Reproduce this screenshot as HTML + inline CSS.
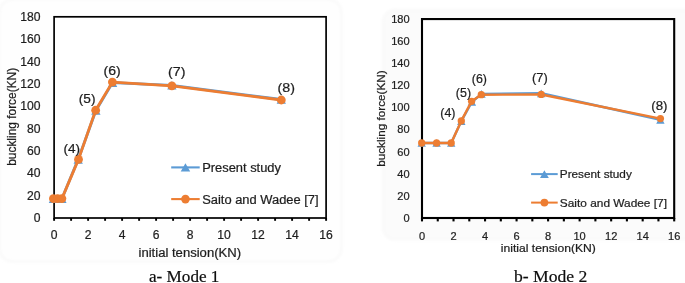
<!DOCTYPE html>
<html><head><meta charset="utf-8"><title>Buckling force vs initial tension</title>
<style>
html,body{margin:0;padding:0;background:#fff;}
body{width:685px;height:283px;overflow:hidden;font-family:"Liberation Sans",sans-serif;}
svg{display:block;}
</style></head><body>
<svg width="685" height="283" viewBox="0 0 685 283">
<defs><filter id="bl" x="-5%" y="-5%" width="110%" height="110%"><feGaussianBlur stdDeviation="1.6"/></filter></defs>
<rect width="685" height="283" fill="#fff"/>
<filter id="soft" x="0" y="0" width="100%" height="100%" filterUnits="userSpaceOnUse"><feGaussianBlur stdDeviation="0.35"/></filter>
<g filter="url(#soft)">
<rect width="685" height="283" fill="#fff"/>
<rect x="-0.5" y="-0.5" width="342" height="262" rx="13" fill="#fefefe" stroke="#f6f6f6" stroke-width="1.5" filter="url(#bl)"/>
<rect x="383" y="10" width="320" height="229.6" rx="12" fill="#fbfbfb" stroke="#f6f6f6" stroke-width="1.5" filter="url(#bl)"/>
<rect x="54.10" y="16.80" width="272.00" height="201.20" fill="#fff" stroke="#000" stroke-width="1.7"/>
<line x1="54.10" y1="218.00" x2="54.10" y2="220.80" stroke="#000" stroke-width="1.9"/>
<line x1="71.10" y1="218.00" x2="71.10" y2="220.80" stroke="#000" stroke-width="1.9"/>
<line x1="88.10" y1="218.00" x2="88.10" y2="220.80" stroke="#000" stroke-width="1.9"/>
<line x1="105.10" y1="218.00" x2="105.10" y2="220.80" stroke="#000" stroke-width="1.9"/>
<line x1="122.10" y1="218.00" x2="122.10" y2="220.80" stroke="#000" stroke-width="1.9"/>
<line x1="139.10" y1="218.00" x2="139.10" y2="220.80" stroke="#000" stroke-width="1.9"/>
<line x1="156.10" y1="218.00" x2="156.10" y2="220.80" stroke="#000" stroke-width="1.9"/>
<line x1="173.10" y1="218.00" x2="173.10" y2="220.80" stroke="#000" stroke-width="1.9"/>
<line x1="190.10" y1="218.00" x2="190.10" y2="220.80" stroke="#000" stroke-width="1.9"/>
<line x1="207.10" y1="218.00" x2="207.10" y2="220.80" stroke="#000" stroke-width="1.9"/>
<line x1="224.10" y1="218.00" x2="224.10" y2="220.80" stroke="#000" stroke-width="1.9"/>
<line x1="241.10" y1="218.00" x2="241.10" y2="220.80" stroke="#000" stroke-width="1.9"/>
<line x1="258.10" y1="218.00" x2="258.10" y2="220.80" stroke="#000" stroke-width="1.9"/>
<line x1="275.10" y1="218.00" x2="275.10" y2="220.80" stroke="#000" stroke-width="1.9"/>
<line x1="292.10" y1="218.00" x2="292.10" y2="220.80" stroke="#000" stroke-width="1.9"/>
<line x1="309.10" y1="218.00" x2="309.10" y2="220.80" stroke="#000" stroke-width="1.9"/>
<line x1="326.10" y1="218.00" x2="326.10" y2="220.80" stroke="#000" stroke-width="1.9"/>
<text x="40.60" y="222.15" font-family="'Liberation Sans', sans-serif" font-size="11.9" text-anchor="end" fill="#1f1f1f" stroke="#1f1f1f" stroke-width="0.22" textLength="6.75" lengthAdjust="spacingAndGlyphs" >0</text>
<text x="40.60" y="199.79" font-family="'Liberation Sans', sans-serif" font-size="11.9" text-anchor="end" fill="#1f1f1f" stroke="#1f1f1f" stroke-width="0.22" textLength="13.50" lengthAdjust="spacingAndGlyphs" >20</text>
<text x="40.60" y="177.44" font-family="'Liberation Sans', sans-serif" font-size="11.9" text-anchor="end" fill="#1f1f1f" stroke="#1f1f1f" stroke-width="0.22" textLength="13.50" lengthAdjust="spacingAndGlyphs" >40</text>
<text x="40.60" y="155.08" font-family="'Liberation Sans', sans-serif" font-size="11.9" text-anchor="end" fill="#1f1f1f" stroke="#1f1f1f" stroke-width="0.22" textLength="13.50" lengthAdjust="spacingAndGlyphs" >60</text>
<text x="40.60" y="132.73" font-family="'Liberation Sans', sans-serif" font-size="11.9" text-anchor="end" fill="#1f1f1f" stroke="#1f1f1f" stroke-width="0.22" textLength="13.50" lengthAdjust="spacingAndGlyphs" >80</text>
<text x="40.60" y="110.37" font-family="'Liberation Sans', sans-serif" font-size="11.9" text-anchor="end" fill="#1f1f1f" stroke="#1f1f1f" stroke-width="0.22" textLength="20.25" lengthAdjust="spacingAndGlyphs" >100</text>
<text x="40.60" y="88.02" font-family="'Liberation Sans', sans-serif" font-size="11.9" text-anchor="end" fill="#1f1f1f" stroke="#1f1f1f" stroke-width="0.22" textLength="20.25" lengthAdjust="spacingAndGlyphs" >120</text>
<text x="40.60" y="65.66" font-family="'Liberation Sans', sans-serif" font-size="11.9" text-anchor="end" fill="#1f1f1f" stroke="#1f1f1f" stroke-width="0.22" textLength="20.25" lengthAdjust="spacingAndGlyphs" >140</text>
<text x="40.60" y="43.31" font-family="'Liberation Sans', sans-serif" font-size="11.9" text-anchor="end" fill="#1f1f1f" stroke="#1f1f1f" stroke-width="0.22" textLength="20.25" lengthAdjust="spacingAndGlyphs" >160</text>
<text x="40.60" y="20.95" font-family="'Liberation Sans', sans-serif" font-size="11.9" text-anchor="end" fill="#1f1f1f" stroke="#1f1f1f" stroke-width="0.22" textLength="20.25" lengthAdjust="spacingAndGlyphs" >180</text>
<text x="54.10" y="239.30" font-family="'Liberation Sans', sans-serif" font-size="11.9" text-anchor="middle" fill="#1f1f1f" stroke="#1f1f1f" stroke-width="0.22" textLength="6.75" lengthAdjust="spacingAndGlyphs" >0</text>
<text x="88.10" y="239.30" font-family="'Liberation Sans', sans-serif" font-size="11.9" text-anchor="middle" fill="#1f1f1f" stroke="#1f1f1f" stroke-width="0.22" textLength="6.75" lengthAdjust="spacingAndGlyphs" >2</text>
<text x="122.10" y="239.30" font-family="'Liberation Sans', sans-serif" font-size="11.9" text-anchor="middle" fill="#1f1f1f" stroke="#1f1f1f" stroke-width="0.22" textLength="6.75" lengthAdjust="spacingAndGlyphs" >4</text>
<text x="156.10" y="239.30" font-family="'Liberation Sans', sans-serif" font-size="11.9" text-anchor="middle" fill="#1f1f1f" stroke="#1f1f1f" stroke-width="0.22" textLength="6.75" lengthAdjust="spacingAndGlyphs" >6</text>
<text x="190.10" y="239.30" font-family="'Liberation Sans', sans-serif" font-size="11.9" text-anchor="middle" fill="#1f1f1f" stroke="#1f1f1f" stroke-width="0.22" textLength="6.75" lengthAdjust="spacingAndGlyphs" >8</text>
<text x="224.10" y="239.30" font-family="'Liberation Sans', sans-serif" font-size="11.9" text-anchor="middle" fill="#1f1f1f" stroke="#1f1f1f" stroke-width="0.22" textLength="13.50" lengthAdjust="spacingAndGlyphs" >10</text>
<text x="258.10" y="239.30" font-family="'Liberation Sans', sans-serif" font-size="11.9" text-anchor="middle" fill="#1f1f1f" stroke="#1f1f1f" stroke-width="0.22" textLength="13.50" lengthAdjust="spacingAndGlyphs" >12</text>
<text x="292.10" y="239.30" font-family="'Liberation Sans', sans-serif" font-size="11.9" text-anchor="middle" fill="#1f1f1f" stroke="#1f1f1f" stroke-width="0.22" textLength="13.50" lengthAdjust="spacingAndGlyphs" >14</text>
<text x="326.10" y="239.30" font-family="'Liberation Sans', sans-serif" font-size="11.9" text-anchor="middle" fill="#1f1f1f" stroke="#1f1f1f" stroke-width="0.22" textLength="13.50" lengthAdjust="spacingAndGlyphs" >16</text>
<polyline points="53.40,198.70 57.60,198.70 61.90,198.70 78.20,159.40 95.90,110.50 112.60,82.60 171.90,85.30 281.30,99.50" fill="none" stroke="#5B9BD5" stroke-width="2.8" stroke-linejoin="round" stroke-linecap="round"/>
<path d="M53.40 194.40 L58.05 203.00 L48.75 203.00 Z" fill="#5B9BD5"/>
<path d="M57.60 194.40 L62.25 203.00 L52.95 203.00 Z" fill="#5B9BD5"/>
<path d="M61.90 194.40 L66.55 203.00 L57.25 203.00 Z" fill="#5B9BD5"/>
<path d="M78.20 155.10 L82.85 163.70 L73.55 163.70 Z" fill="#5B9BD5"/>
<path d="M95.90 106.20 L100.55 114.80 L91.25 114.80 Z" fill="#5B9BD5"/>
<path d="M112.60 78.30 L117.25 86.90 L107.95 86.90 Z" fill="#5B9BD5"/>
<path d="M171.90 81.00 L176.55 89.60 L167.25 89.60 Z" fill="#5B9BD5"/>
<path d="M281.30 95.20 L285.95 103.80 L276.65 103.80 Z" fill="#5B9BD5"/>
<polyline points="53.40,198.60 57.60,198.60 61.90,198.60 78.50,159.40 95.65,110.25 112.40,82.10 171.90,85.90 281.30,100.00" fill="none" stroke="#ED7D31" stroke-width="2.8" stroke-linejoin="round" stroke-linecap="round"/>
<circle cx="53.40" cy="198.60" r="4.4" fill="#ED7D31"/>
<circle cx="57.60" cy="198.60" r="4.4" fill="#ED7D31"/>
<circle cx="61.90" cy="198.60" r="4.4" fill="#ED7D31"/>
<circle cx="78.50" cy="159.40" r="4.4" fill="#ED7D31"/>
<circle cx="95.65" cy="110.25" r="4.4" fill="#ED7D31"/>
<circle cx="112.40" cy="82.10" r="4.4" fill="#ED7D31"/>
<circle cx="171.90" cy="85.90" r="4.4" fill="#ED7D31"/>
<circle cx="281.30" cy="100.00" r="4.4" fill="#ED7D31"/>
<text x="71.83" y="152.60" font-family="'Liberation Sans', sans-serif" font-size="12.3" text-anchor="middle" fill="#1f1f1f" stroke="#1f1f1f" stroke-width="0.22" textLength="16.65" lengthAdjust="spacingAndGlyphs" >(4)</text>
<text x="87.15" y="102.60" font-family="'Liberation Sans', sans-serif" font-size="12.3" text-anchor="middle" fill="#1f1f1f" stroke="#1f1f1f" stroke-width="0.22" textLength="16.70" lengthAdjust="spacingAndGlyphs" >(5)</text>
<text x="112.20" y="75.30" font-family="'Liberation Sans', sans-serif" font-size="12.3" text-anchor="middle" fill="#1f1f1f" stroke="#1f1f1f" stroke-width="0.22" textLength="17.20" lengthAdjust="spacingAndGlyphs" >(6)</text>
<text x="176.80" y="75.60" font-family="'Liberation Sans', sans-serif" font-size="12.3" text-anchor="middle" fill="#1f1f1f" stroke="#1f1f1f" stroke-width="0.22" textLength="17.40" lengthAdjust="spacingAndGlyphs" >(7)</text>
<text x="286.30" y="92.30" font-family="'Liberation Sans', sans-serif" font-size="12.3" text-anchor="middle" fill="#1f1f1f" stroke="#1f1f1f" stroke-width="0.22" textLength="17.40" lengthAdjust="spacingAndGlyphs" >(8)</text>
<line x1="171.20" y1="167.40" x2="199.70" y2="167.40" stroke="#5B9BD5" stroke-width="2.1"/>
<path d="M185.45 163.30 L190.20 171.50 L180.70 171.50 Z" fill="#5B9BD5"/>
<text x="202.20" y="171.50" font-family="'Liberation Sans', sans-serif" font-size="12" text-anchor="start" fill="#1f1f1f" stroke="#1f1f1f" stroke-width="0.22" textLength="78.80" lengthAdjust="spacingAndGlyphs" >Present study</text>
<line x1="171.20" y1="199.10" x2="199.70" y2="199.10" stroke="#ED7D31" stroke-width="2.1"/>
<circle cx="185.45" cy="199.10" r="4.3" fill="#ED7D31"/>
<text x="202.20" y="203.60" font-family="'Liberation Sans', sans-serif" font-size="12" text-anchor="start" fill="#1f1f1f" stroke="#1f1f1f" stroke-width="0.22" textLength="116.40" lengthAdjust="spacingAndGlyphs" >Saito and Wadee [7]</text>
<text x="189.80" y="257.30" font-family="'Liberation Sans', sans-serif" font-size="12" text-anchor="middle" fill="#1f1f1f" stroke="#1f1f1f" stroke-width="0.22" textLength="102.60" lengthAdjust="spacingAndGlyphs" >initial tension(KN)</text>
<text x="0.00" y="0.00" font-family="'Liberation Sans', sans-serif" font-size="12.1" text-anchor="middle" fill="#1f1f1f" stroke="#1f1f1f" stroke-width="0.22" textLength="98.00" lengthAdjust="spacingAndGlyphs" transform="translate(15.70 116.80) rotate(-90)">buckling force(KN)</text>
<rect x="422.00" y="19.06" width="252.20" height="198.94" fill="#fff" stroke="#000" stroke-width="2.1"/>
<line x1="422.00" y1="218.00" x2="422.00" y2="221.40" stroke="#000" stroke-width="2.1"/>
<line x1="437.76" y1="218.00" x2="437.76" y2="221.40" stroke="#000" stroke-width="2.1"/>
<line x1="453.52" y1="218.00" x2="453.52" y2="221.40" stroke="#000" stroke-width="2.1"/>
<line x1="469.29" y1="218.00" x2="469.29" y2="221.40" stroke="#000" stroke-width="2.1"/>
<line x1="485.05" y1="218.00" x2="485.05" y2="221.40" stroke="#000" stroke-width="2.1"/>
<line x1="500.81" y1="218.00" x2="500.81" y2="221.40" stroke="#000" stroke-width="2.1"/>
<line x1="516.58" y1="218.00" x2="516.58" y2="221.40" stroke="#000" stroke-width="2.1"/>
<line x1="532.34" y1="218.00" x2="532.34" y2="221.40" stroke="#000" stroke-width="2.1"/>
<line x1="548.10" y1="218.00" x2="548.10" y2="221.40" stroke="#000" stroke-width="2.1"/>
<line x1="563.86" y1="218.00" x2="563.86" y2="221.40" stroke="#000" stroke-width="2.1"/>
<line x1="579.62" y1="218.00" x2="579.62" y2="221.40" stroke="#000" stroke-width="2.1"/>
<line x1="595.39" y1="218.00" x2="595.39" y2="221.40" stroke="#000" stroke-width="2.1"/>
<line x1="611.15" y1="218.00" x2="611.15" y2="221.40" stroke="#000" stroke-width="2.1"/>
<line x1="626.91" y1="218.00" x2="626.91" y2="221.40" stroke="#000" stroke-width="2.1"/>
<line x1="642.68" y1="218.00" x2="642.68" y2="221.40" stroke="#000" stroke-width="2.1"/>
<line x1="658.44" y1="218.00" x2="658.44" y2="221.40" stroke="#000" stroke-width="2.1"/>
<line x1="674.20" y1="218.00" x2="674.20" y2="221.40" stroke="#000" stroke-width="2.1"/>
<text x="409.60" y="221.90" font-family="'Liberation Sans', sans-serif" font-size="10.8" text-anchor="end" fill="#1f1f1f" stroke="#1f1f1f" stroke-width="0.22" textLength="6.15" lengthAdjust="spacingAndGlyphs" >0</text>
<text x="409.60" y="199.80" font-family="'Liberation Sans', sans-serif" font-size="10.8" text-anchor="end" fill="#1f1f1f" stroke="#1f1f1f" stroke-width="0.22" textLength="12.30" lengthAdjust="spacingAndGlyphs" >20</text>
<text x="409.60" y="177.69" font-family="'Liberation Sans', sans-serif" font-size="10.8" text-anchor="end" fill="#1f1f1f" stroke="#1f1f1f" stroke-width="0.22" textLength="12.30" lengthAdjust="spacingAndGlyphs" >40</text>
<text x="409.60" y="155.59" font-family="'Liberation Sans', sans-serif" font-size="10.8" text-anchor="end" fill="#1f1f1f" stroke="#1f1f1f" stroke-width="0.22" textLength="12.30" lengthAdjust="spacingAndGlyphs" >60</text>
<text x="409.60" y="133.48" font-family="'Liberation Sans', sans-serif" font-size="10.8" text-anchor="end" fill="#1f1f1f" stroke="#1f1f1f" stroke-width="0.22" textLength="12.30" lengthAdjust="spacingAndGlyphs" >80</text>
<text x="409.60" y="111.38" font-family="'Liberation Sans', sans-serif" font-size="10.8" text-anchor="end" fill="#1f1f1f" stroke="#1f1f1f" stroke-width="0.22" textLength="18.45" lengthAdjust="spacingAndGlyphs" >100</text>
<text x="409.60" y="89.27" font-family="'Liberation Sans', sans-serif" font-size="10.8" text-anchor="end" fill="#1f1f1f" stroke="#1f1f1f" stroke-width="0.22" textLength="18.45" lengthAdjust="spacingAndGlyphs" >120</text>
<text x="409.60" y="67.17" font-family="'Liberation Sans', sans-serif" font-size="10.8" text-anchor="end" fill="#1f1f1f" stroke="#1f1f1f" stroke-width="0.22" textLength="18.45" lengthAdjust="spacingAndGlyphs" >140</text>
<text x="409.60" y="45.06" font-family="'Liberation Sans', sans-serif" font-size="10.8" text-anchor="end" fill="#1f1f1f" stroke="#1f1f1f" stroke-width="0.22" textLength="18.45" lengthAdjust="spacingAndGlyphs" >160</text>
<text x="409.60" y="22.96" font-family="'Liberation Sans', sans-serif" font-size="10.8" text-anchor="end" fill="#1f1f1f" stroke="#1f1f1f" stroke-width="0.22" textLength="18.45" lengthAdjust="spacingAndGlyphs" >180</text>
<text x="422.00" y="239.50" font-family="'Liberation Sans', sans-serif" font-size="10.8" text-anchor="middle" fill="#1f1f1f" stroke="#1f1f1f" stroke-width="0.22" textLength="6.15" lengthAdjust="spacingAndGlyphs" >0</text>
<text x="453.52" y="239.50" font-family="'Liberation Sans', sans-serif" font-size="10.8" text-anchor="middle" fill="#1f1f1f" stroke="#1f1f1f" stroke-width="0.22" textLength="6.15" lengthAdjust="spacingAndGlyphs" >2</text>
<text x="485.05" y="239.50" font-family="'Liberation Sans', sans-serif" font-size="10.8" text-anchor="middle" fill="#1f1f1f" stroke="#1f1f1f" stroke-width="0.22" textLength="6.15" lengthAdjust="spacingAndGlyphs" >4</text>
<text x="516.58" y="239.50" font-family="'Liberation Sans', sans-serif" font-size="10.8" text-anchor="middle" fill="#1f1f1f" stroke="#1f1f1f" stroke-width="0.22" textLength="6.15" lengthAdjust="spacingAndGlyphs" >6</text>
<text x="548.10" y="239.50" font-family="'Liberation Sans', sans-serif" font-size="10.8" text-anchor="middle" fill="#1f1f1f" stroke="#1f1f1f" stroke-width="0.22" textLength="6.15" lengthAdjust="spacingAndGlyphs" >8</text>
<text x="579.62" y="239.50" font-family="'Liberation Sans', sans-serif" font-size="10.8" text-anchor="middle" fill="#1f1f1f" stroke="#1f1f1f" stroke-width="0.22" textLength="12.30" lengthAdjust="spacingAndGlyphs" >10</text>
<text x="611.15" y="239.50" font-family="'Liberation Sans', sans-serif" font-size="10.8" text-anchor="middle" fill="#1f1f1f" stroke="#1f1f1f" stroke-width="0.22" textLength="12.30" lengthAdjust="spacingAndGlyphs" >12</text>
<text x="642.68" y="239.50" font-family="'Liberation Sans', sans-serif" font-size="10.8" text-anchor="middle" fill="#1f1f1f" stroke="#1f1f1f" stroke-width="0.22" textLength="12.30" lengthAdjust="spacingAndGlyphs" >14</text>
<text x="674.20" y="239.50" font-family="'Liberation Sans', sans-serif" font-size="10.8" text-anchor="middle" fill="#1f1f1f" stroke="#1f1f1f" stroke-width="0.22" textLength="12.30" lengthAdjust="spacingAndGlyphs" >16</text>
<polyline points="421.70,143.00 436.60,143.00 451.20,143.00 461.30,121.20 471.90,102.00 481.50,93.90 541.20,93.30 660.40,119.80" fill="none" stroke="#5B9BD5" stroke-width="2.45" stroke-linejoin="round" stroke-linecap="round"/>
<path d="M421.70 139.15 L425.90 146.85 L417.50 146.85 Z" fill="#5B9BD5"/>
<path d="M436.60 139.15 L440.80 146.85 L432.40 146.85 Z" fill="#5B9BD5"/>
<path d="M451.20 139.15 L455.40 146.85 L447.00 146.85 Z" fill="#5B9BD5"/>
<path d="M461.30 117.35 L465.50 125.05 L457.10 125.05 Z" fill="#5B9BD5"/>
<path d="M471.90 98.15 L476.10 105.85 L467.70 105.85 Z" fill="#5B9BD5"/>
<path d="M481.50 90.05 L485.70 97.75 L477.30 97.75 Z" fill="#5B9BD5"/>
<path d="M541.20 89.45 L545.40 97.15 L537.00 97.15 Z" fill="#5B9BD5"/>
<path d="M660.40 115.95 L664.60 123.65 L656.20 123.65 Z" fill="#5B9BD5"/>
<polyline points="421.70,143.00 436.60,143.00 451.20,143.00 461.30,120.90 471.60,101.30 481.30,94.70 541.20,94.45 660.40,118.60" fill="none" stroke="#ED7D31" stroke-width="2.45" stroke-linejoin="round" stroke-linecap="round"/>
<circle cx="421.70" cy="143.00" r="3.65" fill="#ED7D31"/>
<circle cx="436.60" cy="143.00" r="3.65" fill="#ED7D31"/>
<circle cx="451.20" cy="143.00" r="3.65" fill="#ED7D31"/>
<circle cx="461.30" cy="120.90" r="3.65" fill="#ED7D31"/>
<circle cx="471.60" cy="101.30" r="3.65" fill="#ED7D31"/>
<circle cx="481.30" cy="94.70" r="3.65" fill="#ED7D31"/>
<circle cx="541.20" cy="94.45" r="3.65" fill="#ED7D31"/>
<circle cx="660.40" cy="118.60" r="3.65" fill="#ED7D31"/>
<text x="447.85" y="117.10" font-family="'Liberation Sans', sans-serif" font-size="11.9" text-anchor="middle" fill="#1f1f1f" stroke="#1f1f1f" stroke-width="0.22" textLength="15.20" lengthAdjust="spacingAndGlyphs" >(4)</text>
<text x="463.45" y="96.80" font-family="'Liberation Sans', sans-serif" font-size="11.9" text-anchor="middle" fill="#1f1f1f" stroke="#1f1f1f" stroke-width="0.22" textLength="15.20" lengthAdjust="spacingAndGlyphs" >(5)</text>
<text x="479.35" y="83.00" font-family="'Liberation Sans', sans-serif" font-size="11.9" text-anchor="middle" fill="#1f1f1f" stroke="#1f1f1f" stroke-width="0.22" textLength="15.20" lengthAdjust="spacingAndGlyphs" >(6)</text>
<text x="539.90" y="81.90" font-family="'Liberation Sans', sans-serif" font-size="11.9" text-anchor="middle" fill="#1f1f1f" stroke="#1f1f1f" stroke-width="0.22" textLength="15.70" lengthAdjust="spacingAndGlyphs" >(7)</text>
<text x="659.35" y="109.50" font-family="'Liberation Sans', sans-serif" font-size="11.9" text-anchor="middle" fill="#1f1f1f" stroke="#1f1f1f" stroke-width="0.22" textLength="16.20" lengthAdjust="spacingAndGlyphs" >(8)</text>
<line x1="531.10" y1="174.10" x2="557.70" y2="174.10" stroke="#5B9BD5" stroke-width="2.0"/>
<path d="M544.40 170.30 L548.80 177.90 L540.00 177.90 Z" fill="#5B9BD5"/>
<text x="559.80" y="177.80" font-family="'Liberation Sans', sans-serif" font-size="11.1" text-anchor="start" fill="#1f1f1f" stroke="#1f1f1f" stroke-width="0.22" textLength="72.00" lengthAdjust="spacingAndGlyphs" >Present study</text>
<line x1="531.10" y1="202.60" x2="557.70" y2="202.60" stroke="#ED7D31" stroke-width="2.0"/>
<circle cx="544.40" cy="202.60" r="3.9" fill="#ED7D31"/>
<text x="559.80" y="206.60" font-family="'Liberation Sans', sans-serif" font-size="11.1" text-anchor="start" fill="#1f1f1f" stroke="#1f1f1f" stroke-width="0.22" textLength="107.20" lengthAdjust="spacingAndGlyphs" >Saito and Wadee [7]</text>
<text x="548.30" y="252.00" font-family="'Liberation Sans', sans-serif" font-size="11.1" text-anchor="middle" fill="#1f1f1f" stroke="#1f1f1f" stroke-width="0.22" textLength="95.00" lengthAdjust="spacingAndGlyphs" >initial tension(KN)</text>
<text x="0.00" y="0.00" font-family="'Liberation Sans', sans-serif" font-size="10.9" text-anchor="middle" fill="#1f1f1f" stroke="#1f1f1f" stroke-width="0.22" textLength="96.40" lengthAdjust="spacingAndGlyphs" transform="translate(384.90 118.60) rotate(-90)">buckling force(KN)</text>
<text x="149.00" y="282.00" font-family="'Liberation Serif', sans-serif" font-size="17.2" text-anchor="start" fill="#111" stroke="#111" stroke-width="0.22" textLength="70.40" lengthAdjust="spacingAndGlyphs" >a- Mode 1</text>
<text x="514.00" y="282.00" font-family="'Liberation Serif', sans-serif" font-size="17.4" text-anchor="start" fill="#111" stroke="#111" stroke-width="0.22" textLength="73.40" lengthAdjust="spacingAndGlyphs" >b- Mode 2</text>
</g>
</svg>
</body></html>
